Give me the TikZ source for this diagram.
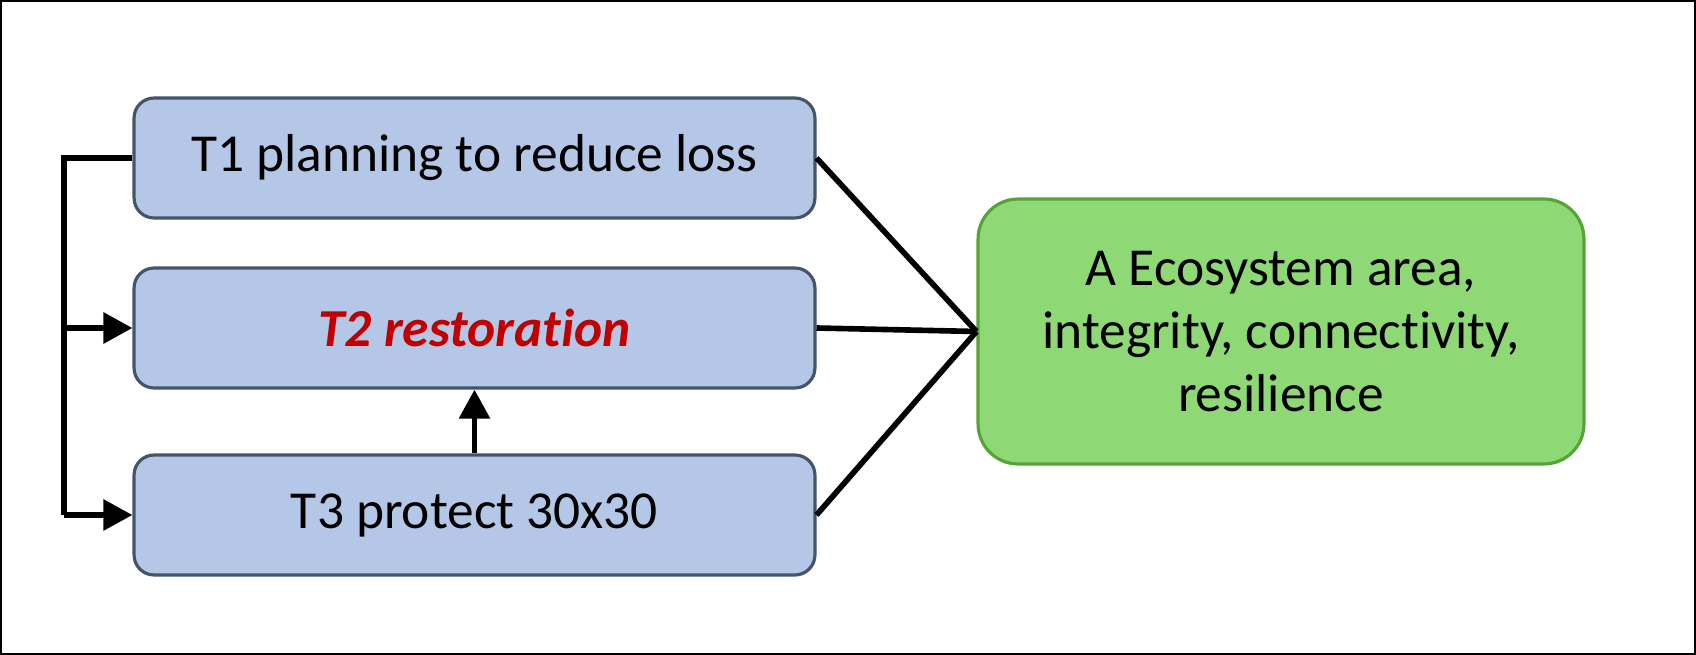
\documentclass[tikz,border=0pt]{standalone}
\usepackage{fontspec}
\setmainfont{Carlito}[Ligatures=NoCommon]
\usetikzlibrary{arrows.meta}
\definecolor{boxblue}{RGB}{180,199,231}
\definecolor{boxedge}{RGB}{68,84,106}
\definecolor{boxgreen}{RGB}{143,216,118}
\definecolor{greenedge}{RGB}{84,166,52}
\definecolor{darkred}{RGB}{192,0,0}

\begin{document}
\begin{tikzpicture}[x=0.02cm,y=-0.02cm,
  target/.style={draw=boxedge,fill=boxblue,line width=1.8pt,rounded corners=0.4cm,
    minimum width=13.62cm,minimum height=2.4cm,font=\fontsize{30.4}{36}\selectfont},
  goal/.style={draw=greenedge,fill=boxgreen,line width=1.8pt,rounded corners=0.8cm,
    minimum width=12.12cm,minimum height=5.3cm,align=center,
    font=\fontsize{30.4}{36}\selectfont},
  link/.style={line width=3.2pt},
  tip/.style={-{Triangle[length=0.58cm,width=0.6cm]}}]
\useasboundingbox (0,0) rectangle (1696,655);
\draw [line width=1.5pt] (1,1) rectangle (1695,654);

\node [target] (t1) at(474.5,158) {T1 planning to reduce loss};
\node [target] (t2) at(474.5,328) {\textcolor{darkred}{\textbf{\textit{T2 restoration}}}};
\node [target] (t3) at(474.5,515) {T3 protect 30x30};
\node [goal] (eco) at(1281,331.5) {A Ecosystem area,\\integrity, connectivity,\\resilience};

\coordinate (bend1) at(64,158);
\coordinate (bend3) at(64,515);
\coordinate (fork2) at(64,328);

\draw [link] (t1.west) -- (bend1) -- (bend3);
\draw [link,tip] (fork2) -- (t2.west);
\draw [link,tip] (bend3) -- (t3.west);
\draw [link,tip] (t3.north) -- (t2.south);

\draw [link] (t1.east) -- (eco.west);
\draw [link] (t2.east) -- (eco.west);
\draw [link] (t3.east) -- (eco.west);
\end{tikzpicture}
\end{document}
